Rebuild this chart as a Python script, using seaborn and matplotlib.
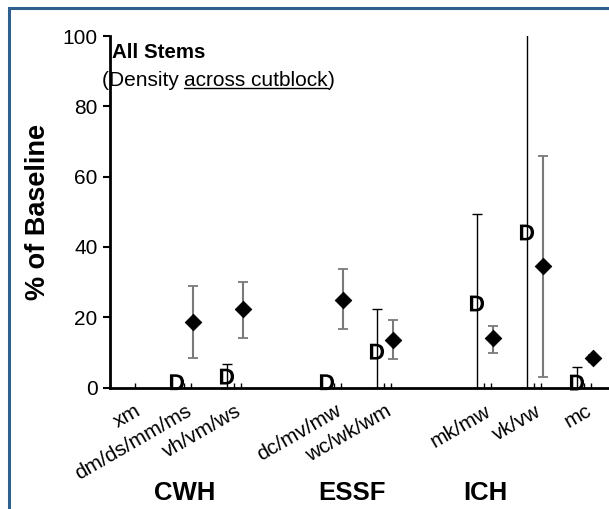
import numpy as np
import pandas as pd
import matplotlib
matplotlib.use("Agg")
import matplotlib.pyplot as plt
import matplotlib.patches as patches
import matplotlib.transforms as mtransforms
from matplotlib.lines import Line2D
import seaborn as sns

sns.set_style("white")
plt.rcParams["font.family"] = ["Liberation Sans", "DejaVu Sans"]
plt.rcParams["mathtext.fontset"] = "custom"
plt.rcParams["mathtext.bf"] = "Liberation Sans:bold"
plt.rcParams["mathtext.rm"] = "Liberation Sans"
for k in ["text.color", "axes.labelcolor", "xtick.color", "ytick.color"]:
    plt.rcParams[k] = "black"

# slots along the x axis (blank slots are gaps between zones)
slot_labels = ["xm", "dm/ds/mm/ms", "vh/vm/ws", "", "dc/mv/mw", "wc/wk/wm",
               "", "mk/mw", "vk/vw", "mc"]
data_slots = [1, 2, 4, 5, 7, 8, 9]

# "D" series
d_vals = [1.5, 3.1, 1.5, 10.2, 23.9, 44.1, 1.4]
d_hi = [np.nan, 6.8, np.nan, 22.4, 49.5, 110, 5.9]

# diamond series
dia_vals = [18.5, 22.4, 25.0, 13.4, 14.0, 34.7, 8.3]
dia_lo = [8.3, 14.2, 16.7, 8.0, 9.9, 3.1, 7.2]
dia_hi = [29.0, 30.1, 33.8, 19.1, 17.6, 65.9, 9.3]

zones = ["CWH", "ESSF", "ICH"]
zone_pos = [1.0, 4.35, 7.0]

d_off, dia_off = -0.16, 0.16

df = pd.DataFrame({"slot": data_slots, "d": d_vals, "d_hi": d_hi,
                   "dia": dia_vals, "lo": dia_lo, "hi": dia_hi})
df["xd"] = df["slot"] + d_off
df["xdia"] = df["slot"] + dia_off

fig = plt.figure(figsize=(6.09, 5.09), dpi=100)
ax = fig.add_axes([110 / 609, 121.5 / 509, 499 / 609, 351.5 / 509])

# small marks along the base
base_x = [0.0]
for s in data_slots:
    base_x += [s - 0.02, s + 0.12]
ax.vlines(base_x, 0, 1.2, color="black", lw=1)

# error bars of the D series (black, thin)
dd = df.dropna(subset=["d_hi"])
ax.errorbar(dd["xd"], dd["d"], yerr=[dd["d"], dd["d_hi"] - dd["d"]],
            fmt="none", ecolor="black", elinewidth=1, capsize=3.5, capthick=1)

# error bars of the diamond series (grey)
ax.errorbar(df["xdia"], df["dia"], yerr=[df["dia"] - df["lo"], df["hi"] - df["dia"]],
            fmt="none", ecolor="#7a7a7a", elinewidth=1.5, capsize=3.5, capthick=1.3)

sns.scatterplot(data=df, x="xdia", y="dia", marker="D", s=70, color="black",
                edgecolor="black", ax=ax, zorder=5, clip_on=False)
sns.scatterplot(data=df, x="xd", y="d", marker=r"$\mathbf{D}$", s=130, color="black",
                edgecolor="none", linewidth=0, ax=ax, zorder=5, clip_on=False)

ax.set_xlim(-0.5, 9.48)
ax.set_ylim(0, 100)
ax.set_yticks([0, 20, 40, 60, 80, 100])
ax.set_xticks(range(len(slot_labels)))
ax.set_xticklabels(slot_labels, rotation=30, ha="right", rotation_mode="anchor", fontsize=15)
shift = mtransforms.ScaledTranslation(6 / 100, 0, fig.dpi_scale_trans)
for lab in ax.get_xticklabels():
    lab.set_transform(lab.get_transform() + shift)
ax.tick_params(axis="x", length=0, pad=10)
ax.tick_params(axis="y", direction="out", length=5, width=1.5, labelsize=15, pad=4, left=True)
ax.set_xlabel("")
ax.set_ylabel("% of Baseline", fontsize=19.5, fontweight="bold", labelpad=8)

for sp in ["top", "right"]:
    ax.spines[sp].set_visible(False)
for sp in ["left", "bottom"]:
    ax.spines[sp].set_color("black")
    ax.spines[sp].set_linewidth(2)

ax.text(0.005, 0.952, "All Stems", transform=ax.transAxes, fontsize=14.8,
        fontweight="bold", va="center", ha="left")
t1 = ax.text(-0.017, 0.857, "(Density ", transform=ax.transAxes, fontsize=15,
             va="baseline", ha="left")
t2 = ax.annotate("across cutblock", xy=(1, 0), xycoords=t1, fontsize=15,
                 va="bottom", ha="left")
t3 = ax.annotate(")", xy=(1, 0), xycoords=t2, fontsize=15, va="bottom", ha="left")

fig.canvas.draw()
bb = t2.get_window_extent(fig.canvas.get_renderer())
bb1 = t1.get_window_extent(fig.canvas.get_renderer())
uy = bb1.y0 + 2
fig.add_artist(Line2D([bb.x0, bb.x1], [uy, uy], transform=None, color="black", lw=1))

for z, p in zip(zones, zone_pos):
    ax.text(p, -0.3, z, transform=ax.get_xaxis_transform(), fontsize=18.5,
            fontweight="bold", ha="center", va="center")

fig.add_artist(patches.Rectangle((9 / 609, -0.1), 1.2, 1 - 8 / 509 + 0.1,
                                 transform=fig.transFigure, fill=False,
                                 edgecolor="#2f5f8f", lw=2.2, clip_on=False))

fig.savefig("out.png", dpi=100)
